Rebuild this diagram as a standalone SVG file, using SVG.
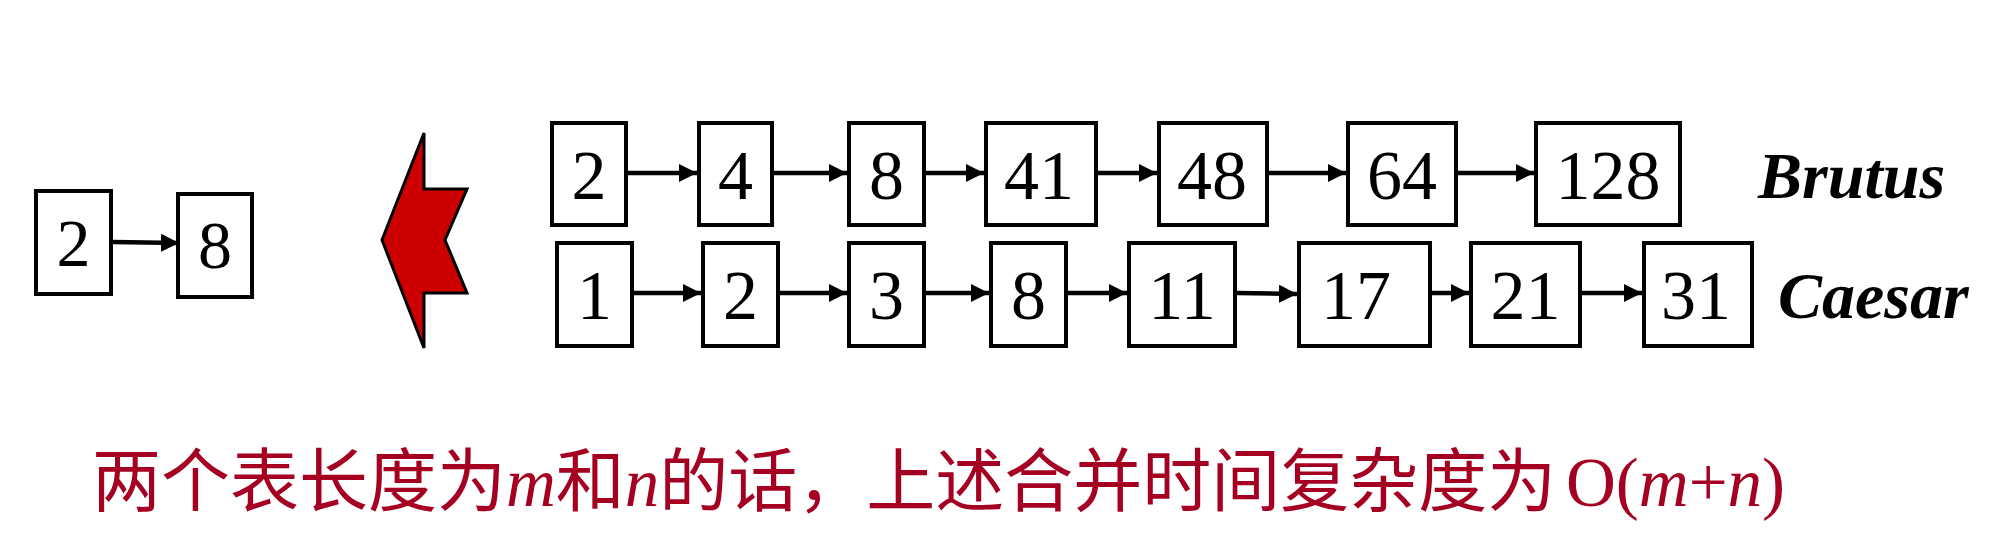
<svg xmlns="http://www.w3.org/2000/svg" width="2000" height="538" viewBox="0 0 2000 538">
<defs>
<style>
.box{fill:#fff;stroke:#000;stroke-width:4}
.num{font-family:"Liberation Serif","Times New Roman",serif;font-size:70px;fill:#000;text-anchor:middle}
.lab{font-family:"Liberation Serif","Times New Roman",serif;font-size:66px;font-weight:bold;font-style:italic;fill:#000}
.conn{stroke:#000;stroke-width:4.5;fill:none;marker-end:url(#ah)}
.cap{font-family:"Noto Sans CJK SC","Noto Sans",sans-serif;font-size:69px;fill:#A50021}
.ser{font-family:"Liberation Serif","Times New Roman",serif}
.it{font-style:italic}
</style>
<marker id="ah" markerUnits="userSpaceOnUse" markerWidth="19" markerHeight="18" refX="18" refY="9" orient="auto">
<path d="M0,0 L18,9 L0,18 z" fill="#000"/>
</marker>
</defs>
<rect width="2000" height="538" fill="#fff"/>

<g id="connectors">
<path class="conn" d="M113,242 L179,243"/>
<path class="conn" d="M628,173 L697,173"/>
<path class="conn" d="M774,173 L847,173"/>
<path class="conn" d="M926,173 L984,173"/>
<path class="conn" d="M1098,173 L1157,173"/>
<path class="conn" d="M1269,173 L1346,173"/>
<path class="conn" d="M1458,173 L1534,173"/>
<path class="conn" d="M634,293 L701,293"/>
<path class="conn" d="M780,293 L847,293"/>
<path class="conn" d="M926,293 L989,293"/>
<path class="conn" d="M1068,293 L1127,293"/>
<path class="conn" d="M1237,293 L1297,294"/>
<path class="conn" d="M1432,293 L1469,293"/>
<path class="conn" d="M1582,293 L1642,293"/>
</g>

<g id="left-2"><rect class="box" x="36" y="191" width="75" height="103"/><text class="num" x="73.5" y="266" style="font-size:68px">2</text></g>
<g id="left-8"><rect class="box" x="178" y="194" width="74" height="103"/><text class="num" x="215" y="268" style="font-size:68px">8</text></g>

<g id="merge-arrow"><polygon points="424,133 424,189 467,189 445,240 467,293 424,293 424,348 382,240" fill="#CC0000" stroke="#000" stroke-width="3"/></g>

<g id="brutus-2"><rect class="box" x="552" y="123" width="74" height="102"/><text class="num" x="589" y="199">2</text></g>
<g id="brutus-4"><rect class="box" x="699" y="123" width="73" height="102"/><text class="num" x="735.5" y="199">4</text></g>
<g id="brutus-8"><rect class="box" x="849" y="123" width="75" height="102"/><text class="num" x="886.5" y="199">8</text></g>
<g id="brutus-41"><rect class="box" x="986" y="123" width="110" height="102"/><text class="num" x="1039" y="199">41</text></g>
<g id="brutus-48"><rect class="box" x="1159" y="123" width="108" height="102"/><text class="num" x="1212" y="199">48</text></g>
<g id="brutus-64"><rect class="box" x="1348" y="123" width="108" height="102"/><text class="num" x="1402" y="199">64</text></g>
<g id="brutus-128"><rect class="box" x="1536" y="123" width="144" height="102"/><text class="num" x="1608" y="199">128</text></g>
<g id="brutus-label"><text class="lab" x="1758" y="198">Brutus</text></g>

<g id="caesar-1"><rect class="box" x="557" y="243" width="75" height="103"/><text class="num" x="594.5" y="319">1</text></g>
<g id="caesar-2"><rect class="box" x="703" y="243" width="75" height="103"/><text class="num" x="740.5" y="319">2</text></g>
<g id="caesar-3"><rect class="box" x="849" y="243" width="75" height="103"/><text class="num" x="886.5" y="319">3</text></g>
<g id="caesar-8"><rect class="box" x="991" y="243" width="75" height="103"/><text class="num" x="1028.5" y="319">8</text></g>
<g id="caesar-11"><rect class="box" x="1129" y="243" width="106" height="103"/><text class="num" x="1182" y="319">11</text></g>
<g id="caesar-17"><rect class="box" x="1299" y="243" width="131" height="103"/><text class="num" x="1356" y="319">17</text></g>
<g id="caesar-21"><rect class="box" x="1471" y="243" width="109" height="103"/><text class="num" x="1525.5" y="319">21</text></g>
<g id="caesar-31"><rect class="box" x="1644" y="243" width="108" height="103"/><text class="num" x="1696" y="319">31</text></g>
<g id="caesar-label"><text class="lab" x="1778" y="318">Caesar</text></g>

<g id="caption"><text class="cap" x="92" y="506">两个表长度为<tspan class="ser it">m</tspan>和<tspan class="ser it">n</tspan>的话，上述合并时间复杂度为<tspan class="ser" x="1566">O(</tspan><tspan class="ser it">m</tspan><tspan class="ser">+</tspan><tspan class="ser it">n</tspan><tspan class="ser">)</tspan></text></g>
</svg>
